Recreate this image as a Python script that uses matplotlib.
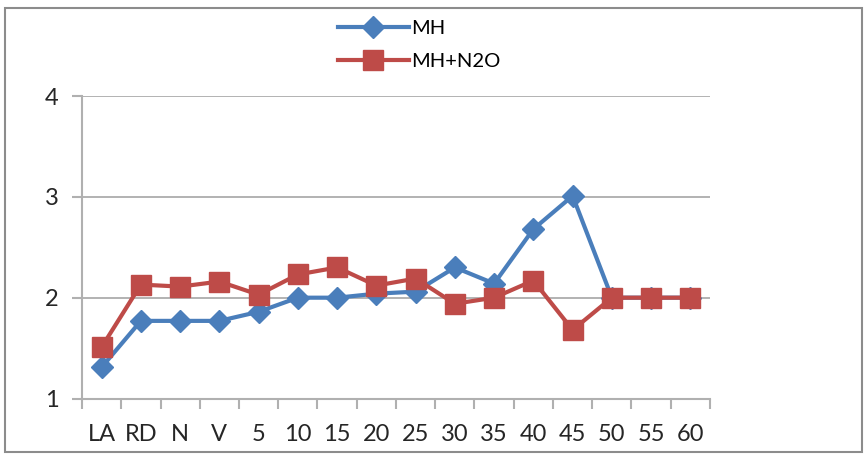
import matplotlib.pyplot as plt
from matplotlib.patches import Rectangle
from matplotlib.ticker import FixedLocator

categories = ['LA', 'RD', 'N', 'V', '5', '10', '15', '20', '25', '30',
              '35', '40', '45', '50', '55', '60']
mh = [1.31, 1.77, 1.77, 1.77, 1.86, 2.0, 2.0, 2.04, 2.06, 2.30,
      2.14, 2.68, 3.01, 2.0, 2.0, 2.0]
mh_n2o = [1.51, 2.13, 2.11, 2.16, 2.03, 2.23, 2.30, 2.12, 2.19, 1.94,
          2.0, 2.17, 1.68, 2.0, 2.0, 2.0]

plt.rcParams['font.family'] = ['Lato', 'DejaVu Sans']

fig = plt.figure(figsize=(8.65, 4.54), dpi=100)
ax = fig.add_axes([0.0948, 0.1222, 0.726, 0.6663])

x = list(range(len(categories)))
ax.plot(x, mh, color='#4a7ebb', lw=3, marker='D', ms=11, label='MH', zorder=3)
ax.plot(x, mh_n2o, color='#be4b48', lw=3, marker='s', ms=14, label='MH+N2O', zorder=4)

ax.set_xlim(-0.5, len(categories) - 0.5)
ax.set_ylim(1, 4)
ax.set_yticks([1, 2, 3, 4])
ax.set_xticks(x)
ax.set_xticklabels(categories)
ax.xaxis.set_minor_locator(FixedLocator([i - 0.5 for i in range(len(categories) + 1)]))

ax.grid(axis='y', color='#a6a6a6', lw=1.2)
ax.set_axisbelow(True)
for s in ['top', 'right']:
    ax.spines[s].set_visible(False)
for s in ['left', 'bottom']:
    ax.spines[s].set_color('#b0b0b0')
    ax.spines[s].set_linewidth(1.5)

ax.tick_params(axis='x', which='major', length=0, pad=18, labelsize=17, colors='#262626')
ax.tick_params(axis='x', which='minor', length=7, width=1.5, color='#b0b0b0')
ax.tick_params(axis='y', length=7, width=1.5, color='#b0b0b0', pad=10,
               labelsize=17, labelcolor='#262626')

fig.legend(loc='upper center', bbox_to_anchor=(0.485, 0.995), frameon=False,
           fontsize=14.5, handlelength=3.5, handletextpad=0.15, labelspacing=0.75)

# outer chart border
fig.patches.append(Rectangle((5 / 865, 2 / 454), 857 / 865, 444 / 454,
                             transform=fig.transFigure, fill=False,
                             edgecolor='#8c8c8c', lw=1.5))

fig.savefig('out.png', dpi=100)
